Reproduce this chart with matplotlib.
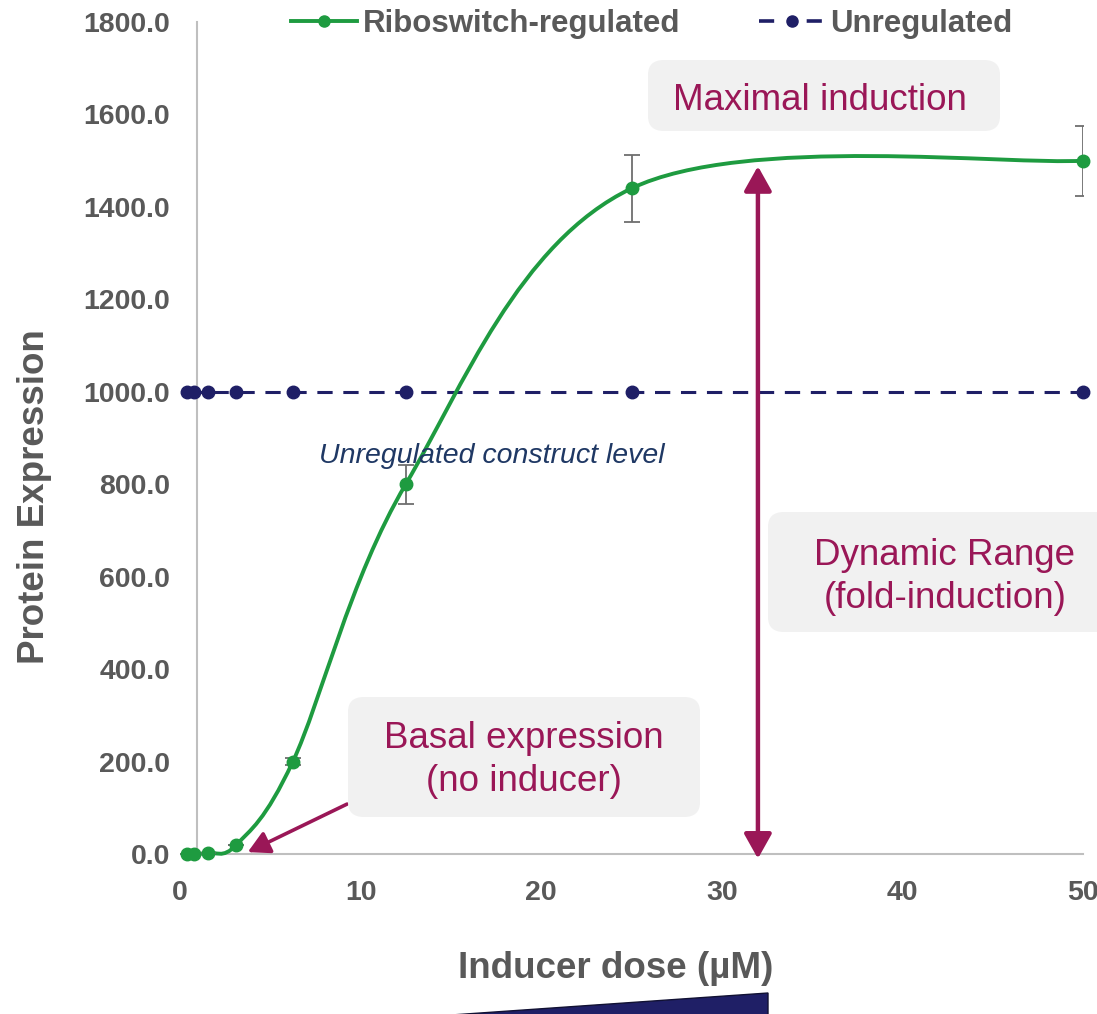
import numpy as np
import matplotlib
matplotlib.use("Agg")
import matplotlib.pyplot as plt
from matplotlib.path import Path
from matplotlib.patches import PathPatch, FancyBboxPatch, Polygon, FancyArrowPatch
from matplotlib.lines import Line2D

# ---------------- data ----------------
dose = [0.39, 0.78, 1.56, 3.125, 6.25, 12.5, 25, 50]
riboswitch = [0, 0, 3, 20, 200, 800, 1440, 1500]
riboswitch_err = [0, 0, 0, 0, 8, 42, 72, 76]
unregulated = [1000, 1000, 1000, 1000, 1000, 1000, 1000, 1000]
x_ticks = [0, 10, 20, 30, 40, 50]
y_ticks = [0, 200, 400, 600, 800, 1000, 1200, 1400, 1600, 1800]

GREEN = "#1E9B40"
NAVY = "#1F1F66"
MAROON = "#9A1757"
GREY = "#595959"
AXGREY = "#BFBFBF"
BOXGREY = "#F1F1F1"

plt.rcParams["font.family"] = ["Liberation Sans", "DejaVu Sans"]

W, H = 1097, 1014
fig = plt.figure(figsize=(W / 100, H / 100), dpi=100)


def fx(px):
    return px / W


def fy(py):
    return 1 - py / H


ax = fig.add_axes([fx(180), fy(854), fx(1083) - fx(180), fy(22) - fy(854)])
ax.set_xlim(0, 50)
ax.set_ylim(0, 1800)
for s in ax.spines.values():
    s.set_visible(False)
ax.set_xticks(x_ticks)
ax.set_yticks(y_ticks)
ax.set_xticklabels([str(v) for v in x_ticks])
ax.set_yticklabels([f"{v:.1f}" for v in y_ticks])
ax.tick_params(axis="both", length=0, labelsize=20.5, labelcolor=GREY)
ax.tick_params(axis="x", pad=19)
ax.tick_params(axis="y", pad=7)
for lab in ax.get_xticklabels() + ax.get_yticklabels():
    lab.set_fontweight("bold")
ax.get_xticklabels()[-1].set_clip_on(False)

# axis lines (vertical axis crosses slightly right of 0)
ax.plot([0.94, 0.94], [0, 1800], color=AXGREY, lw=1.5, zorder=1, clip_on=False)
ax.plot([0.94, 50], [0, 0], color=AXGREY, lw=1.5, zorder=1, clip_on=False)

# ---------------- unregulated ----------------
ax.plot(dose, unregulated, color=NAVY, lw=2.2, ls=(0, (5, 3.5)),
        marker="o", ms=9, zorder=3, clip_on=False)

# ---------------- smoothed riboswitch curve (Catmull-Rom Bezier) ----------------
pts = np.column_stack([dose, riboswitch]).astype(float)
verts = [tuple(pts[0])]
codes = [Path.MOVETO]
n = len(pts)
for i in range(n - 1):
    p0 = pts[i - 1] if i > 0 else pts[i]
    p1 = pts[i]
    p2 = pts[i + 1]
    p3 = pts[i + 2] if i + 2 < n else pts[i + 1]
    c1 = p1 + (p2 - p0) / 6.0
    c2 = p2 - (p3 - p1) / 6.0
    verts += [tuple(c1), tuple(c2), tuple(p2)]
    codes += [Path.CURVE4] * 3
curve = PathPatch(Path(verts, codes), facecolor="none", edgecolor=GREEN,
                  lw=2.8, zorder=4, clip_on=False)
ax.add_patch(curve)
ax.errorbar(dose, riboswitch, yerr=riboswitch_err, fmt="none",
            ecolor="#6E6E6E", elinewidth=1.3, capsize=6, capthick=1.3, zorder=5)
ax.plot(dose, riboswitch, "o", color=GREEN, ms=9, zorder=6, clip_on=False)

# ---------------- legend ----------------
h1 = Line2D([], [], color=GREEN, lw=2.8, marker="o", ms=8)
h2 = Line2D([], [], color=NAVY, lw=2.6, ls=(0, (4.2, 9.0)), marker="o", ms=8)
leg = fig.legend([h1, h2], ["Riboswitch-regulated", "Unregulated"],
                 loc="center", bbox_to_anchor=(fx(652), fy(24)), ncol=2,
                 frameon=False, handlelength=2.1, handletextpad=0.2,
                 columnspacing=2.5, prop={"size": 22.5, "weight": "bold"},
                 borderaxespad=0, borderpad=0)
for t in leg.get_texts():
    t.set_color(GREY)

# ---------------- axis titles ----------------
fig.text(fx(616), fy(968), "Inducer dose (µM)", ha="center", va="center",
         fontsize=26.5, fontweight="bold", color=GREY)
fig.text(fx(35), fy(497), "Protein Expression", ha="center", va="center",
         rotation=90, fontsize=26.5, fontweight="bold", color=GREY)

# ---------------- annotation boxes ----------------
def box(x0, y0, x1, y1):
    p = FancyBboxPatch((fx(x0), fy(y1)), fx(x1) - fx(x0), fy(y0) - fy(y1),
                       boxstyle=f"round,pad=0,rounding_size={fx(16)}",
                       transform=fig.transFigure, facecolor=BOXGREY,
                       edgecolor="none", zorder=0)
    fig.patches.append(p)


box(648, 60, 1000, 131)
fig.text(fx(820), fy(101), "Maximal induction", ha="center", va="center",
         fontsize=26.5, color=MAROON)
box(348, 697, 700, 817)
fig.text(fx(524), fy(760), "Basal expression\n(no inducer)", ha="center",
         va="center", fontsize=26.5, color=MAROON, linespacing=1.26)
box(768, 512, 1115, 632)
fig.text(fx(945), fy(577), "Dynamic Range\n(fold-induction)", ha="center",
         va="center", fontsize=26.5, color=MAROON, linespacing=1.3)

fig.text(fx(492), fy(456), "Unregulated construct level", ha="center",
         va="center", fontsize=20.5, style="italic", color="#1F3864")

# ---------------- arrows ----------------
a1 = FancyArrowPatch((32, 1488), (32, -10),
                     arrowstyle="<|-|>,head_length=0.75,head_width=0.42",
                     mutation_scale=20, color=MAROON, lw=3.2, zorder=7,
                     shrinkA=0, shrinkB=0, clip_on=False)
ax.add_patch(a1)
a2 = FancyArrowPatch((9.25, 108), (3.75, 4),
                     arrowstyle="-|>,head_length=0.65,head_width=0.35",
                     mutation_scale=20, color=MAROON, lw=2.6, zorder=7,
                     shrinkA=0, shrinkB=0, clip_on=False)
ax.add_patch(a2)

# ---------------- dose wedge ----------------
wedge = Polygon([(fx(437), fy(1016)), (fx(768), fy(993)), (fx(768), fy(1016))],
                closed=True, transform=fig.transFigure, facecolor=NAVY,
                edgecolor="#111133", lw=1)
fig.patches.append(wedge)

fig.savefig("out.png", dpi=100)
